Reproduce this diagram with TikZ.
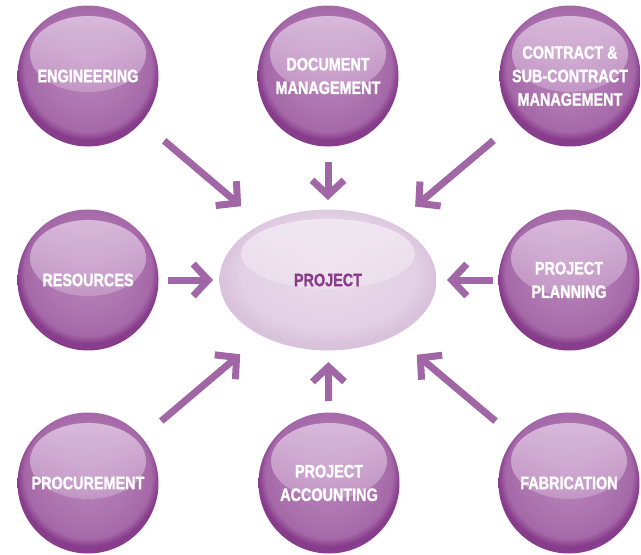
\documentclass[tikz,border=0pt]{standalone}
\usepackage{fontspec}
\newfontfamily\condfont[FakeStretch=0.8, FakeBold=1.2, UprightFont=* Bold]{Liberation Sans}
\usetikzlibrary{arrows.meta,shapes.geometric,fadings}
\definecolor{arrowc}{HTML}{A066A5}
\definecolor{ballin}{HTML}{B885BA}
\definecolor{ballmid}{HTML}{A568A8}
\definecolor{ballout}{HTML}{883D8C}
\definecolor{hltop}{HTML}{E2C8E4}
\definecolor{projtext}{HTML}{8A3C8A}
\definecolor{ellin}{HTML}{EADCEB}
\definecolor{ellmid}{HTML}{E2D0E4}
\definecolor{ellout}{HTML}{D9C2DC}
\definecolor{ellhl}{HTML}{F3EBF4}
\pgfdeclareradialshading{ballshade}{\pgfpoint{0bp}{5bp}}{color(0bp)=(ballin); color(14bp)=(ballin!50!ballmid); color(22.5bp)=(ballmid); color(25bp)=(ballout); color(50bp)=(ballout)}
\pgfdeclareradialshading{ellshade}{\pgfpoint{0bp}{4bp}}{color(0bp)=(ellin); color(20bp)=(ellmid); color(25bp)=(ellout); color(50bp)=(ellout)}
\tikzfading[name=hlfade, top color=transparent!10, bottom color=transparent!100]
\begin{document}
\begin{tikzpicture}[x=1pt,y=-1pt,
  ball/.style={circle, minimum size=141pt, inner sep=0pt, shade, shading=ballshade,
    text=white, font=\condfont\fontsize{18}{23.5}\selectfont, align=center,
    path picture={\fill[hltop, path fading=hlfade]
      ([yshift=22pt]path picture bounding box.center) ellipse [x radius=58pt, y radius=38pt];}},
  hub/.style={ellipse, minimum width=217pt, minimum height=141pt, inner sep=0pt, shade, shading=ellshade,
    text=projtext, font=\condfont\fontsize{18}{22}\selectfont,
    path picture={\fill[ellhl, path fading=hlfade]
      ([yshift=26pt]path picture bounding box.center) ellipse [x radius=87pt, y radius=35pt];}},
  arr/.style={draw=arrowc, line width=7pt,
    -{Straight Barb[length=15pt,width=32pt,line cap=butt,line join=miter]}}
]
\useasboundingbox (0,0) rectangle (641,555);

\node[hub] (proj) at (328,280) {PROJECT};

\node[ball] (eng) at (88,76) {ENGINEERING};
\node[ball] (doc) at (328,76) {DOCUMENT\\MANAGEMENT};
\node[ball] (con) at (570,76) {CONTRACT \&\\SUB-CONTRACT\\MANAGEMENT};
\node[ball] (res) at (88,280) {RESOURCES};
\node[ball] (pla) at (569,280) {PROJECT\\PLANNING};
\node[ball] (pro) at (88,483) {PROCUREMENT};
\node[ball] (acc) at (329,483) {PROJECT\\ACCOUNTING};
\node[ball] (fab) at (569,483) {FABRICATION};

\draw[arr, shorten <=100pt, shorten >=114pt] (eng.center) -- (proj.center);
\draw[arr, shorten <=86pt, shorten >=80pt] (doc.center) -- (proj.center);
\draw[arr, shorten <=100pt, shorten >=114pt] (con.center) -- (proj.center);
\draw[arr, shorten <=80pt, shorten >=115pt] (res.center) -- (proj.center);
\draw[arr, shorten <=76pt, shorten >=119pt] (pla.center) -- (proj.center);
\draw[arr, shorten <=96pt, shorten >=115pt] (pro.center) -- (proj.center);
\draw[arr, shorten <=82pt, shorten >=82pt] (acc.center) -- (proj.center);
\draw[arr, shorten <=96pt, shorten >=116pt] (fab.center) -- (proj.center);
\end{tikzpicture}
\end{document}
